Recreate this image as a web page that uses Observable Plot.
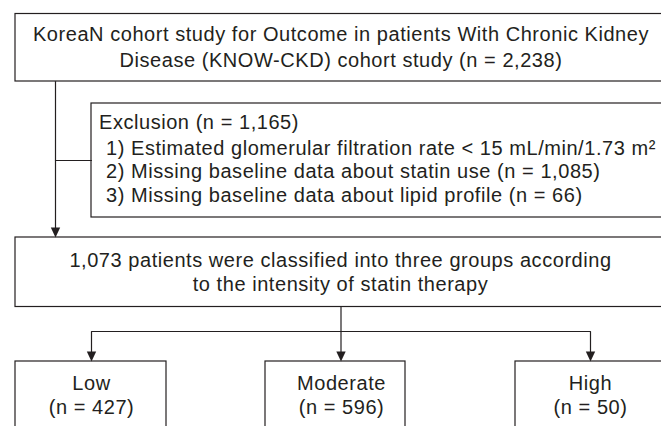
<!DOCTYPE html>
<html>
<head>
<meta charset="utf-8">
<script src="https://cdn.jsdelivr.net/npm/d3@7"></script>
<script src="https://cdn.jsdelivr.net/npm/@observablehq/plot@0.6"></script>
<style>
  html, body { margin: 0; padding: 0; background: #fff; overflow: hidden; }
  #chart svg { display: block; overflow: hidden; }
</style>
</head>
<body>
<div id="chart"></div>
<script>
// ---- content ----
const cohortTitle = ["KoreaN cohort study for Outcome in patients With Chronic Kidney",
                     "Disease (KNOW-CKD) cohort study (n = 2,238)"];
const exclusionTitle = ["Exclusion (n = 1,165)"];
const exclusionItems = ["1) Estimated glomerular filtration rate < 15 mL/min/1.73 m\u00b2",
                        "2) Missing baseline data about statin use (n = 1,085)",
                        "3) Missing baseline data about lipid profile (n = 66)"];
const classifiedLines = ["1,073 patients were classified into three groups according",
                         "to the intensity of statin therapy"];
const groupNames = ["Low", "Moderate", "High"];
const groupCounts = [427, 596, 50];

// ---- layout (diagram coordinates, in the 661 x 426 frame) ----
const W = 661, H = 426;
const ink = "#231f20";
const boxes = [
  {x1: 15, x2: 666, y1: 13.5, y2: 81},     // cohort
  {x1: 91, x2: 666, y1: 103, y2: 217},     // exclusion
  {x1: 15, x2: 666, y1: 237, y2: 306.5},   // classified
  {x1: 15, x2: 166, y1: 361, y2: 440},     // low
  {x1: 265, x2: 405, y1: 361, y2: 440},    // moderate
  {x1: 515, x2: 666, y1: 361, y2: 440}     // high
];
const groupX = [91, 341, 590];
const stemX = 55, centerX = 340.5, branchY = 331;
const segments = [
  [{x: stemX, y: 81}, {x: stemX, y: 229}],
  [{x: stemX, y: 160}, {x: 91, y: 160}],
  [{x: centerX, y: 306.5}, {x: centerX, y: 353}],
  [{x: groupX[0], y: 353}, {x: groupX[0], y: branchY}, {x: groupX[2], y: branchY}, {x: groupX[2], y: 353}]
].flatMap((pts, i) => pts.map(p => ({...p, id: i})));
const tips = [{x: stemX, y: 237}, {x: groupX[0], y: 361}, {x: centerX, y: 361}, {x: groupX[2], y: 361}];

const arrowHead = {
  draw(ctx) {
    const w = 4.7, h = 10;
    ctx.moveTo(0, 0); ctx.lineTo(-w, -h); ctx.lineTo(w, -h); ctx.closePath();
  }
};

const texts = [
  ...cohortTitle.map((t, i) => ({t, x: 340.5, y: [40, 66][i], a: "middle"})),
  ...exclusionTitle.map(t => ({t, x: 98.5, y: 128, a: "start"})),
  ...exclusionItems.map((t, i) => ({t, x: 105.5, y: [154, 177.5, 201][i], a: "start"})),
  ...classifiedLines.map((t, i) => ({t, x: 340, y: [266, 290][i], a: "middle"})),
  ...groupNames.map((t, i) => ({t, x: groupX[i], y: 389, a: "middle"})),
  ...groupCounts.map((n, i) => ({t: `(n = ${n})`, x: groupX[i], y: 413, a: "middle"}))
];

const fontProps = {fontSize: 20, fontFamily: "'Liberation Sans', Arial, Helvetica, sans-serif", fill: ink, lineAnchor: "bottom"};

const chart = Plot.plot({
  width: W, height: H,
  margin: 0,
  x: {domain: [0, W], range: [0, W], axis: null},
  y: {domain: [0, H], range: [0, H], axis: null},
  style: {background: "#fff"},
  marks: [
    Plot.rect(boxes, {x1: "x1", x2: "x2", y1: "y1", y2: "y2", fill: "#fff", stroke: ink, strokeWidth: 1.2}),
    Plot.line(segments, {x: "x", y: "y", z: "id", stroke: ink, strokeWidth: 1.2, curve: "linear"}),
    Plot.dot(tips, {x: "x", y: "y", symbol: arrowHead, fill: ink, stroke: "none"}),
    Plot.text(texts.filter(d => d.a === "middle"), {x: "x", y: "y", text: "t", textAnchor: "middle", ...fontProps}),
    Plot.text(texts.filter(d => d.a === "start"), {x: "x", y: "y", text: "t", textAnchor: "start", ...fontProps})
  ]
});
chart.querySelectorAll("text").forEach(t => t.setAttribute("letter-spacing", "0.55"));
document.getElementById("chart").append(chart);
</script>
</body>
</html>
